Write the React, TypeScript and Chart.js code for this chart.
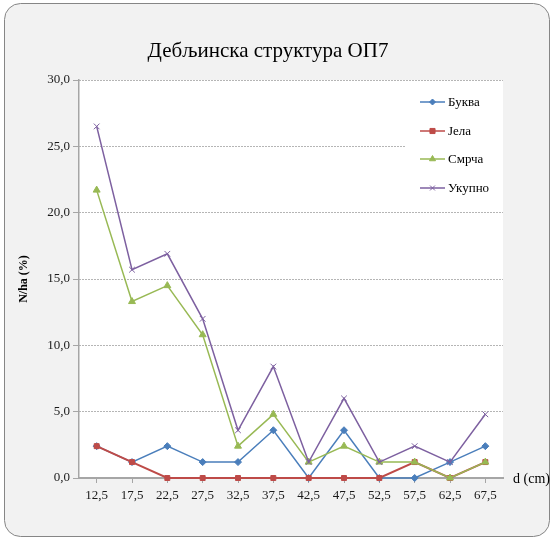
import React, { useEffect, useRef } from "react";
import { Chart, registerables } from "chart.js";

Chart.register(...registerables);

const categories = ["12,5", "17,5", "22,5", "27,5", "32,5", "37,5", "42,5", "47,5", "52,5", "57,5", "62,5", "67,5"];
const bukva = [2.4, 1.2, 2.4, 1.2, 1.2, 3.6, 0, 3.6, 0, 0, 1.2, 2.4];
const jela = [2.4, 1.2, 0, 0, 0, 0, 0, 0, 0, 1.2, 0, 1.2];
const smrca = [21.7, 13.3, 14.5, 10.8, 2.4, 4.8, 1.2, 2.4, 1.2, 1.2, 0, 1.2];
const ukupno = [26.5, 15.7, 16.9, 12.0, 3.6, 8.4, 1.2, 6.0, 1.2, 2.4, 1.2, 4.8];
const seriesNames = ["Буква", "Јела", "Смрча", "Укупно"];
const chartTitle = "Дебљинска структура ОП7";
const yTitle = "N/ha (%)";
const xTitle = "d (cm)";

const FONT = "'Liberation Serif', 'Times New Roman', serif";
const colors = ["#4a7ebb", "#be4b48", "#98b954", "#7d60a0"];
const styles = ["rectRot", "rect", "triangle", "crossRot"];
const radii = [3.5, 3.5, 4, 4];

function drawMarker(ctx: CanvasRenderingContext2D, style: string, x: number, y: number, r: number, color: string) {
  ctx.save();
  ctx.fillStyle = color;
  ctx.strokeStyle = color;
  ctx.lineWidth = 1;
  ctx.beginPath();
  if (style === "rectRot") {
    ctx.moveTo(x, y - r);
    ctx.lineTo(x + r, y);
    ctx.lineTo(x, y + r);
    ctx.lineTo(x - r, y);
    ctx.closePath();
    ctx.fill();
    ctx.stroke();
  } else if (style === "rect") {
    const s = r * 0.85;
    ctx.rect(x - s, y - s, 2 * s, 2 * s);
    ctx.fill();
    ctx.stroke();
  } else if (style === "triangle") {
    ctx.moveTo(x, y - r);
    ctx.lineTo(x + r * 0.87, y + r * 0.5);
    ctx.lineTo(x - r * 0.87, y + r * 0.5);
    ctx.closePath();
    ctx.fill();
    ctx.stroke();
  } else {
    const s = r * 0.7;
    ctx.moveTo(x - s, y - s);
    ctx.lineTo(x + s, y + s);
    ctx.moveTo(x + s, y - s);
    ctx.lineTo(x - s, y + s);
    ctx.stroke();
  }
  ctx.restore();
}

export default function App() {
  const ref = useRef<HTMLCanvasElement | null>(null);
  useEffect(() => {
    if (!ref.current) return;
    const data = [bukva, jela, smrca, ukupno];
    const decor = {
      id: "decor",
      beforeDraw(chart: any) {
        const ctx = chart.ctx;
        const { left, right, top, bottom } = chart.chartArea;
        ctx.save();
        ctx.fillStyle = "#ffffff";
        ctx.fillRect(0, 0, chart.width, chart.height);
        ctx.beginPath();
        ctx.roundRect(4.5, 3.5, 545, 533, 16);
        ctx.fillStyle = "#f2f2f2";
        ctx.fill();
        ctx.strokeStyle = "#868686";
        ctx.lineWidth = 1;
        ctx.stroke();
        ctx.fillStyle = "#ffffff";
        ctx.fillRect(left, top, right - left, bottom - top);
        ctx.fillStyle = "#000000";
        ctx.font = `21px ${FONT}`;
        ctx.textAlign = "center";
        ctx.textBaseline = "alphabetic";
        ctx.fillText(chartTitle, 268, 57);
        ctx.restore();
      },
      afterDatasetsDraw(chart: any) {
        const ctx = chart.ctx;
        const { right, bottom } = chart.chartArea;
        ctx.save();
        ctx.fillStyle = "#ffffff";
        ctx.fillRect(405, 89, right - 405, 117);
        const ys = [102, 131, 159, 188];
        seriesNames.forEach((name, i) => {
          const y = ys[i];
          ctx.strokeStyle = colors[i];
          ctx.lineWidth = 1.5;
          ctx.beginPath();
          ctx.moveTo(420, y);
          ctx.lineTo(445, y);
          ctx.stroke();
          drawMarker(ctx, styles[i], 432.5, y, radii[i] - 0.5, colors[i]);
          ctx.fillStyle = "#000000";
          ctx.font = `13px ${FONT}`;
          ctx.textAlign = "left";
          ctx.textBaseline = "middle";
          ctx.fillText(name, 448, y + 1);
        });
        ctx.fillStyle = "#000000";
        ctx.font = `14px ${FONT}`;
        ctx.textAlign = "left";
        ctx.textBaseline = "middle";
        ctx.fillText(xTitle, 513, bottom + 1);
        ctx.restore();
      },
    };
    const chart = new Chart(ref.current, {
      type: "line",
      data: {
        labels: categories,
        datasets: data.map((d, i) => ({
          label: seriesNames[i],
          data: d,
          borderColor: colors[i],
          backgroundColor: colors[i],
          borderWidth: i === 1 ? 2 : 1.5,
          pointStyle: styles[i] as any,
          pointRadius: radii[i],
          pointBorderWidth: 1,
          pointBorderColor: colors[i],
          pointBackgroundColor: colors[i],
          tension: 0,
          fill: false,
          clip: false,
          order: 4 - i,
        })),
      },
      options: {
        responsive: false,
        animation: false,
        devicePixelRatio: 1,
        layout: { padding: { left: 0, right: 48, top: 80, bottom: 0 } },
        plugins: {
          legend: { display: false },
          title: { display: false },
          tooltip: { enabled: false },
        },
        scales: {
          x: {
            type: "category",
            offset: true,
            grid: {
              display: true,
              drawOnChartArea: false,
              drawTicks: true,
              tickLength: 5,
              offset: false,
              color: "#a6a6a6",
              tickColor: "#a6a6a6",
            },
            border: { color: "#a6a6a6", width: 2 },
            ticks: {
              font: { family: FONT, size: 13 },
              color: "#1a1a1a",
              padding: 5,
              maxRotation: 0,
              autoSkip: false,
            },
            afterFit(scale: any) {
              scale.height = 60;
            },
          },
          y: {
            min: 0,
            max: 30,
            grid: {
              color: "#6a6a6a",
              lineWidth: 1,
              tickLength: 6,
              tickColor: "#a6a6a6",
            },
            border: { color: "#a6a6a6", width: 1.5, dash: [1, 2] },
            ticks: {
              stepSize: 5,
              font: { family: FONT, size: 13 },
              color: "#1a1a1a",
              padding: 3,
              callback: (v: any) => Number(v).toFixed(1).replace(".", ","),
            },
            title: {
              display: true,
              text: yTitle,
              font: { family: FONT, size: 12, weight: "bold" },
              color: "#000000",
              padding: { top: 17, bottom: 0 },
            },
            afterFit(scale: any) {
              scale.width = 79;
            },
          },
        },
      },
      plugins: [decor],
    });
    return () => chart.destroy();
  }, []);
  return (
    <div style={{ position: "absolute", left: 0, top: 0, width: 551, height: 538 }}>
      <canvas ref={ref} width={551} height={538} style={{ width: 551, height: 538, display: "block" }} />
    </div>
  );
}
